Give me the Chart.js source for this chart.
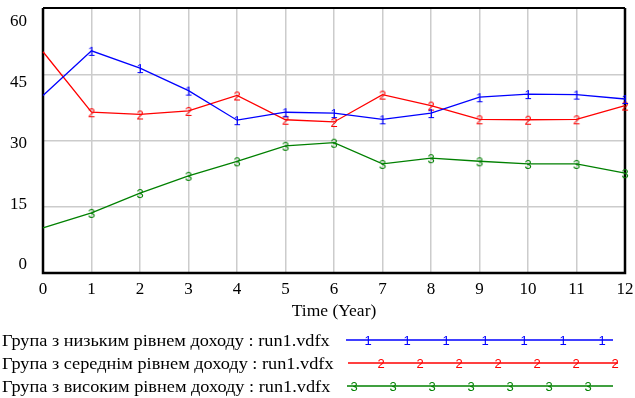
<!DOCTYPE html>
<html>
<head>
<meta charset="utf-8">
<script src="https://cdn.jsdelivr.net/npm/chart.js@4.4.1/dist/chart.umd.min.js"></script>
<style>
  html, body { margin: 0; padding: 0; background: #fff; }
  #wrap { width: 635px; height: 398px; position: relative; }
</style>
</head>
<body>
<div id="wrap"><canvas id="incomeChart"></canvas></div>
<script>
// Дані графіка
const years = [0, 1, 2, 3, 4, 5, 6, 7, 8, 9, 10, 11, 12];
const lowIncome = [40.2, 50.3, 46.4, 41.3, 34.6, 36.4, 36.2, 34.8, 36.2, 39.8, 40.5, 40.4, 39.4];
const midIncome = [50.1, 36.4, 35.9, 36.7, 40.2, 34.7, 34.2, 40.4, 37.9, 34.8, 34.7, 34.8, 37.9];
const highIncome = [10.2, 13.6, 18.1, 22.0, 25.3, 28.8, 29.5, 24.7, 26.0, 25.3, 24.7, 24.7, 22.6];
const yTicks = [0, 15, 30, 45, 60];
const seriesNames = [
  "Група з низьким рівнем доходу : run1.vdfx",
  "Група з середнім рівнем доходу : run1.vdfx",
  "Група з високим рівнем доходу : run1.vdfx",
];
const seriesMarks = ["1", "2", "3"];
const seriesColors = ["#0000ff", "#ff0000", "#008000"];

const serif = "'Liberation Serif', 'Times New Roman', serif";

/**
 * Маркер-цифра як у Vensim
 */
function makeMarker(ch, color) {
  const c = document.createElement("canvas");
  c.width = 12;
  c.height = 16;
  const g = c.getContext("2d");
  g.font = "13px 'Liberation Sans', Arial, sans-serif";
  g.fillStyle = color;
  g.textAlign = "center";
  g.textBaseline = "alphabetic";
  g.fillText(ch, 6, 8 + 13 * 0.358);
  return c;
}

const markers = seriesMarks.map((m, i) => makeMarker(m, seriesColors[i]));

/**
 * Рамка області графіка
 */
const framePlugin = {
  id: "frame",
  beforeDatasetsDraw(chart) {
    const { ctx, chartArea: a } = chart;
    ctx.save();
    ctx.strokeStyle = "#000";
    ctx.lineWidth = 2.5;
    ctx.beginPath();
    ctx.moveTo(a.left, a.top);
    ctx.lineTo(a.left, a.bottom);
    ctx.lineTo(a.right, a.bottom);
    ctx.lineTo(a.right, a.top);
    ctx.stroke();
    ctx.lineWidth = 2;
    ctx.beginPath();
    ctx.moveTo(a.left, a.top);
    ctx.lineTo(a.right, a.top);
    ctx.stroke();
    ctx.restore();
  },
};

/**
 * Легенда знизу: підпис зліва, зразок лінії з цифрами справа
 */
const legendRows = [
  { baseline: 346, lineY: 340, x0: 346, x1: 613, first: 368 },
  { baseline: 369, lineY: 363, x0: 348, x1: 618, first: 381 },
  { baseline: 392, lineY: 386, x0: 347, x1: 613, first: 354 },
];

const legendPlugin = {
  id: "vensimLegend",
  afterDraw(chart) {
    const ctx = chart.ctx;
    ctx.save();
    legendRows.forEach((row, i) => {
      ctx.save();
      ctx.font = "17px " + serif;
      ctx.fillStyle = "#000";
      ctx.textBaseline = "alphabetic";
      ctx.textAlign = "left";
      ctx.translate(2, row.baseline);
      ctx.scale(1.075, 1);
      ctx.fillText(seriesNames[i], 0, 0);
      ctx.restore();

      ctx.strokeStyle = seriesColors[i];
      ctx.lineWidth = 1.3;
      ctx.beginPath();
      ctx.moveTo(row.x0, row.lineY);
      ctx.lineTo(row.x1, row.lineY);
      ctx.stroke();

      const m = markers[i];
      for (let k = 0; k < 7; k++) {
        const cx = row.first + k * 39;
        ctx.drawImage(m, cx - m.width / 2, row.lineY - m.height / 2);
      }
    });
    ctx.restore();
  },
};

function toPoints(values) {
  return values.map((v, i) => ({ x: years[i], y: v }));
}

const datasets = [lowIncome, midIncome, highIncome].map((values, i) => ({
  label: seriesNames[i],
  data: toPoints(values),
  borderColor: seriesColors[i],
  backgroundColor: seriesColors[i],
  borderWidth: 1.3,
  tension: 0,
  fill: false,
  pointStyle: markers[i],
  pointRadius: years.map((t) => (t === 0 ? 0 : 4)),
  clip: false,
}));

const gridStyle = { color: "#cccccc", lineWidth: 1.5, drawTicks: false };

function noPadding(s) {
  s.paddingTop = 0;
  s.paddingBottom = 0;
}

new Chart(document.getElementById("incomeChart"), {
  type: "line",
  data: { datasets },
  options: {
    responsive: true,
    maintainAspectRatio: false,
    animation: false,
    events: [],
    layout: { padding: { top: 8, right: 10, left: 0, bottom: 0 } },
    plugins: {
      legend: { display: false },
      tooltip: { enabled: false },
    },
    scales: {
      x: {
        type: "linear",
        min: 0,
        max: 12,
        afterBuildTicks: (axis) => {
          axis.ticks = years.map((v) => ({ value: v }));
        },
        grid: gridStyle,
        border: { display: false },
        ticks: {
          color: "#000",
          font: { family: serif, size: 17 },
          padding: 6,
          maxRotation: 0,
          autoSkip: false,
        },
        title: {
          display: true,
          text: "Time (Year)",
          color: "#000",
          font: { family: serif, size: 17.5 },
          padding: { top: 0, bottom: 76 },
        },
        afterFit: (s) => {
          s.height = 125;
          s.paddingLeft = 0;
          s.paddingRight = 0;
        },
      },
      y: {
        type: "linear",
        position: "left",
        min: 0,
        max: 60,
        afterBuildTicks: (axis) => {
          axis.ticks = yTicks.map((v) => ({ value: v }));
        },
        grid: gridStyle,
        border: { display: false },
        ticks: { display: false },
        afterFit: (s) => {
          s.width = 0;
          noPadding(s);
        },
      },
      // підписи осі Y у Vensim зсунуті відносно сітки
      yLabels: {
        type: "linear",
        position: "left",
        min: -2.04,
        max: 63.46,
        afterBuildTicks: (axis) => {
          axis.ticks = yTicks.map((v) => ({ value: v }));
        },
        grid: { display: false, drawTicks: false },
        border: { display: false },
        ticks: {
          color: "#000",
          font: { family: serif, size: 17 },
          padding: 16,
        },
        afterFit: (s) => {
          s.width = 43;
          noPadding(s);
        },
      },
    },
  },
  plugins: [framePlugin, legendPlugin],
});
</script>
</body>
</html>
